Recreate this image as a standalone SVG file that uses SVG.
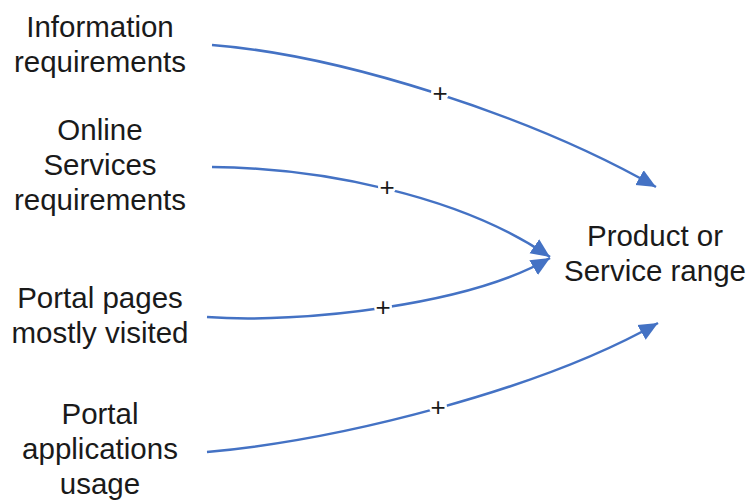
<svg xmlns="http://www.w3.org/2000/svg" width="750" height="501" viewBox="0 0 750 501">
<style>
.lbl{font-family:"Liberation Sans",Arial,sans-serif;font-size:29.5px;fill:#1a1a1a;text-anchor:middle}
.edge{fill:none;stroke:#4472C4;stroke-width:2.5}
.plus{font-family:"Liberation Sans",Arial,sans-serif;font-size:26px;fill:#1a1a1a;text-anchor:middle}
.gap{fill:#ffffff}
</style>
<defs>
<marker id="arr" markerUnits="userSpaceOnUse" markerWidth="22" markerHeight="18" refX="19" refY="9" orient="auto">
<path d="M0,0.5 L19,9 L0,17.5 Z" fill="#4472C4"/>
</marker>
</defs>
<rect width="750" height="501" fill="#ffffff"/>
<g id="connectors">
<path class="edge" d="M212,45 C340,55 530,115 656,187" marker-end="url(#arr)"/>
<path class="edge" d="M212,167 C320,168 460,195 550,257" marker-end="url(#arr)"/>
<path class="edge" d="M207,317 C300,324 470,305 550,258" marker-end="url(#arr)"/>
<path class="edge" d="M207,452 C340,440 540,390 658,323" marker-end="url(#arr)"/>
<circle class="gap" cx="440" cy="93" r="9"/>
<circle class="gap" cx="387" cy="187" r="9"/>
<circle class="gap" cx="383" cy="307" r="9"/>
<circle class="gap" cx="438" cy="407" r="9"/>
<text class="plus" x="440" y="102">+</text>
<text class="plus" x="387" y="196">+</text>
<text class="plus" x="383" y="316">+</text>
<text class="plus" x="438" y="416">+</text>
</g>
<g id="info"><text class="lbl" x="100" y="37">Information</text><text class="lbl" x="100" y="72">requirements</text></g>
<g id="online"><text class="lbl" x="100" y="140">Online</text><text class="lbl" x="100" y="175">Services</text><text class="lbl" x="100" y="210">requirements</text></g>
<g id="pages"><text class="lbl" x="100" y="308">Portal pages</text><text class="lbl" x="100" y="343">mostly visited</text></g>
<g id="apps"><text class="lbl" x="100" y="424">Portal</text><text class="lbl" x="100" y="459">applications</text><text class="lbl" x="100" y="494">usage</text></g>
<g id="product"><text class="lbl" x="655" y="246">Product or</text><text class="lbl" x="655" y="281">Service range</text></g>
</svg>
